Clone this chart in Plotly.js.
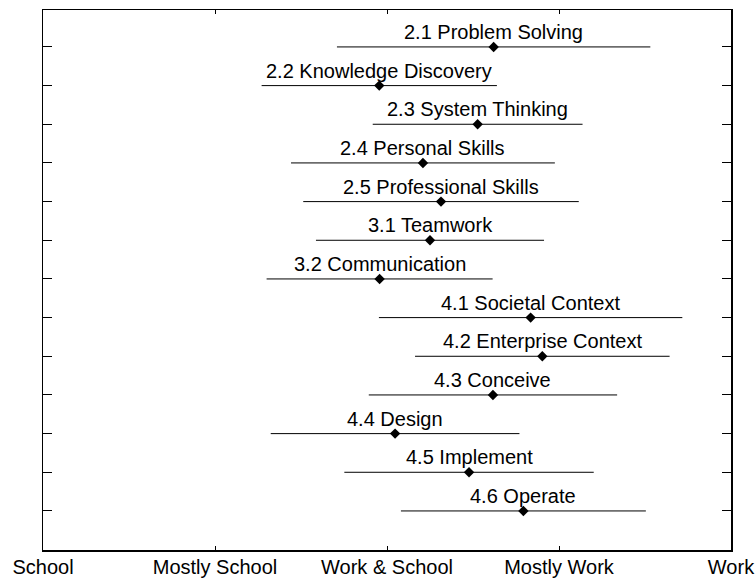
<!DOCTYPE html>
<html>
<head>
<meta charset="utf-8">
<script src="https://cdn.plot.ly/plotly-3.0.1.min.js"></script>
<style>
  html, body { margin: 0; padding: 0; background: #fff; }
  #plotly_graph { width: 756px; height: 581px; }
</style>
</head>
<body>
<div id="plotly_graph"></div>
<script>
// *********************************************************************************************
// DATA

const SKILLS = [
    "2.1 Problem Solving", "2.2 Knowledge Discovery", "2.3 System Thinking",
    "2.4 Personal Skills", "2.5 Professional Skills", "3.1 Teamwork",
    "3.2 Communication", "4.1 Societal Context", "4.2 Enterprise Context",
    "4.3 Conceive", "4.4 Design", "4.5 Implement", "4.6 Operate"
]
const ROWS = [1, 2, 3, 4, 5, 6, 7, 8, 9, 10, 11, 12, 13]

// mean position on the School (0) .. Work (4) scale
const MEANS = [2.62, 1.955, 2.527, 2.209, 2.314, 2.25, 1.957, 2.835, 2.903, 2.616, 2.047, 2.477, 2.793]
// half width of each bar (spread)
const SPREAD = [0.911, 0.684, 0.61, 0.767, 0.801, 0.663, 0.657, 0.882, 0.74, 0.722, 0.723, 0.725, 0.712]

const X_TICKS = [0, 1, 2, 3, 4]
const X_LABELS = ["School", "Mostly School", "Work & School", "Mostly Work", "Work"]

const FONT = 'Liberation Sans, Arial, sans-serif'


// *********************************************************************************************
// TRACES

let trace = {
    type: 'scatter',
    mode: 'markers',
    x: MEANS,
    y: ROWS,
    marker: { symbol: 'diamond', size: 8, color: '#000' },
    error_x: {
        type: 'data',
        array: SPREAD,
        symmetric: true,
        width: 0,
        thickness: 1,
        color: '#000'
    },
    hoverinfo: 'skip',
    showlegend: false
}

// labels sit just above each bar, centred on the mean
let labels = SKILLS.map((s, i) => ({
    x: MEANS[i],
    y: ROWS[i],
    text: s,
    showarrow: false,
    xanchor: 'center',
    yanchor: 'bottom',
    yshift: 2,
    font: { family: FONT, size: 20, color: '#000' }
}))


// *********************************************************************************************
// LAYOUT

let layout = {
    width: 756,
    height: 581,
    margin: { t: 10, r: 25, b: 31, l: 43 },
    paper_bgcolor: '#fff',
    plot_bgcolor: '#fff',
    font: { family: FONT, color: '#000' },
    annotations: labels,
    xaxis: {
        range: [0, 4],
        tickvals: X_TICKS,
        ticktext: X_LABELS,
        ticks: 'inside',
        ticklen: 4,
        tickcolor: '#000',
        tickfont: { size: 20, color: '#000' },
        ticklabelstandoff: -2,
        showgrid: false,
        zeroline: false,
        showline: true,
        linecolor: '#000',
        linewidth: 1.5,
        mirror: 'ticks'
    },
    yaxis: {
        range: [14.01, 0.045],
        tickvals: ROWS,
        showticklabels: false,
        ticks: 'inside',
        ticklen: 9,
        tickcolor: '#000',
        showgrid: false,
        zeroline: false,
        showline: true,
        linecolor: '#000',
        linewidth: 1.5,
        mirror: 'ticks'
    }
}


// *********************************************************************************************
// CONFIG

const config = {
    displaylogo: false,
    displayModeBar: false,
    staticPlot: true
}

Plotly.newPlot('plotly_graph', [trace], layout, config)
</script>
</body>
</html>
